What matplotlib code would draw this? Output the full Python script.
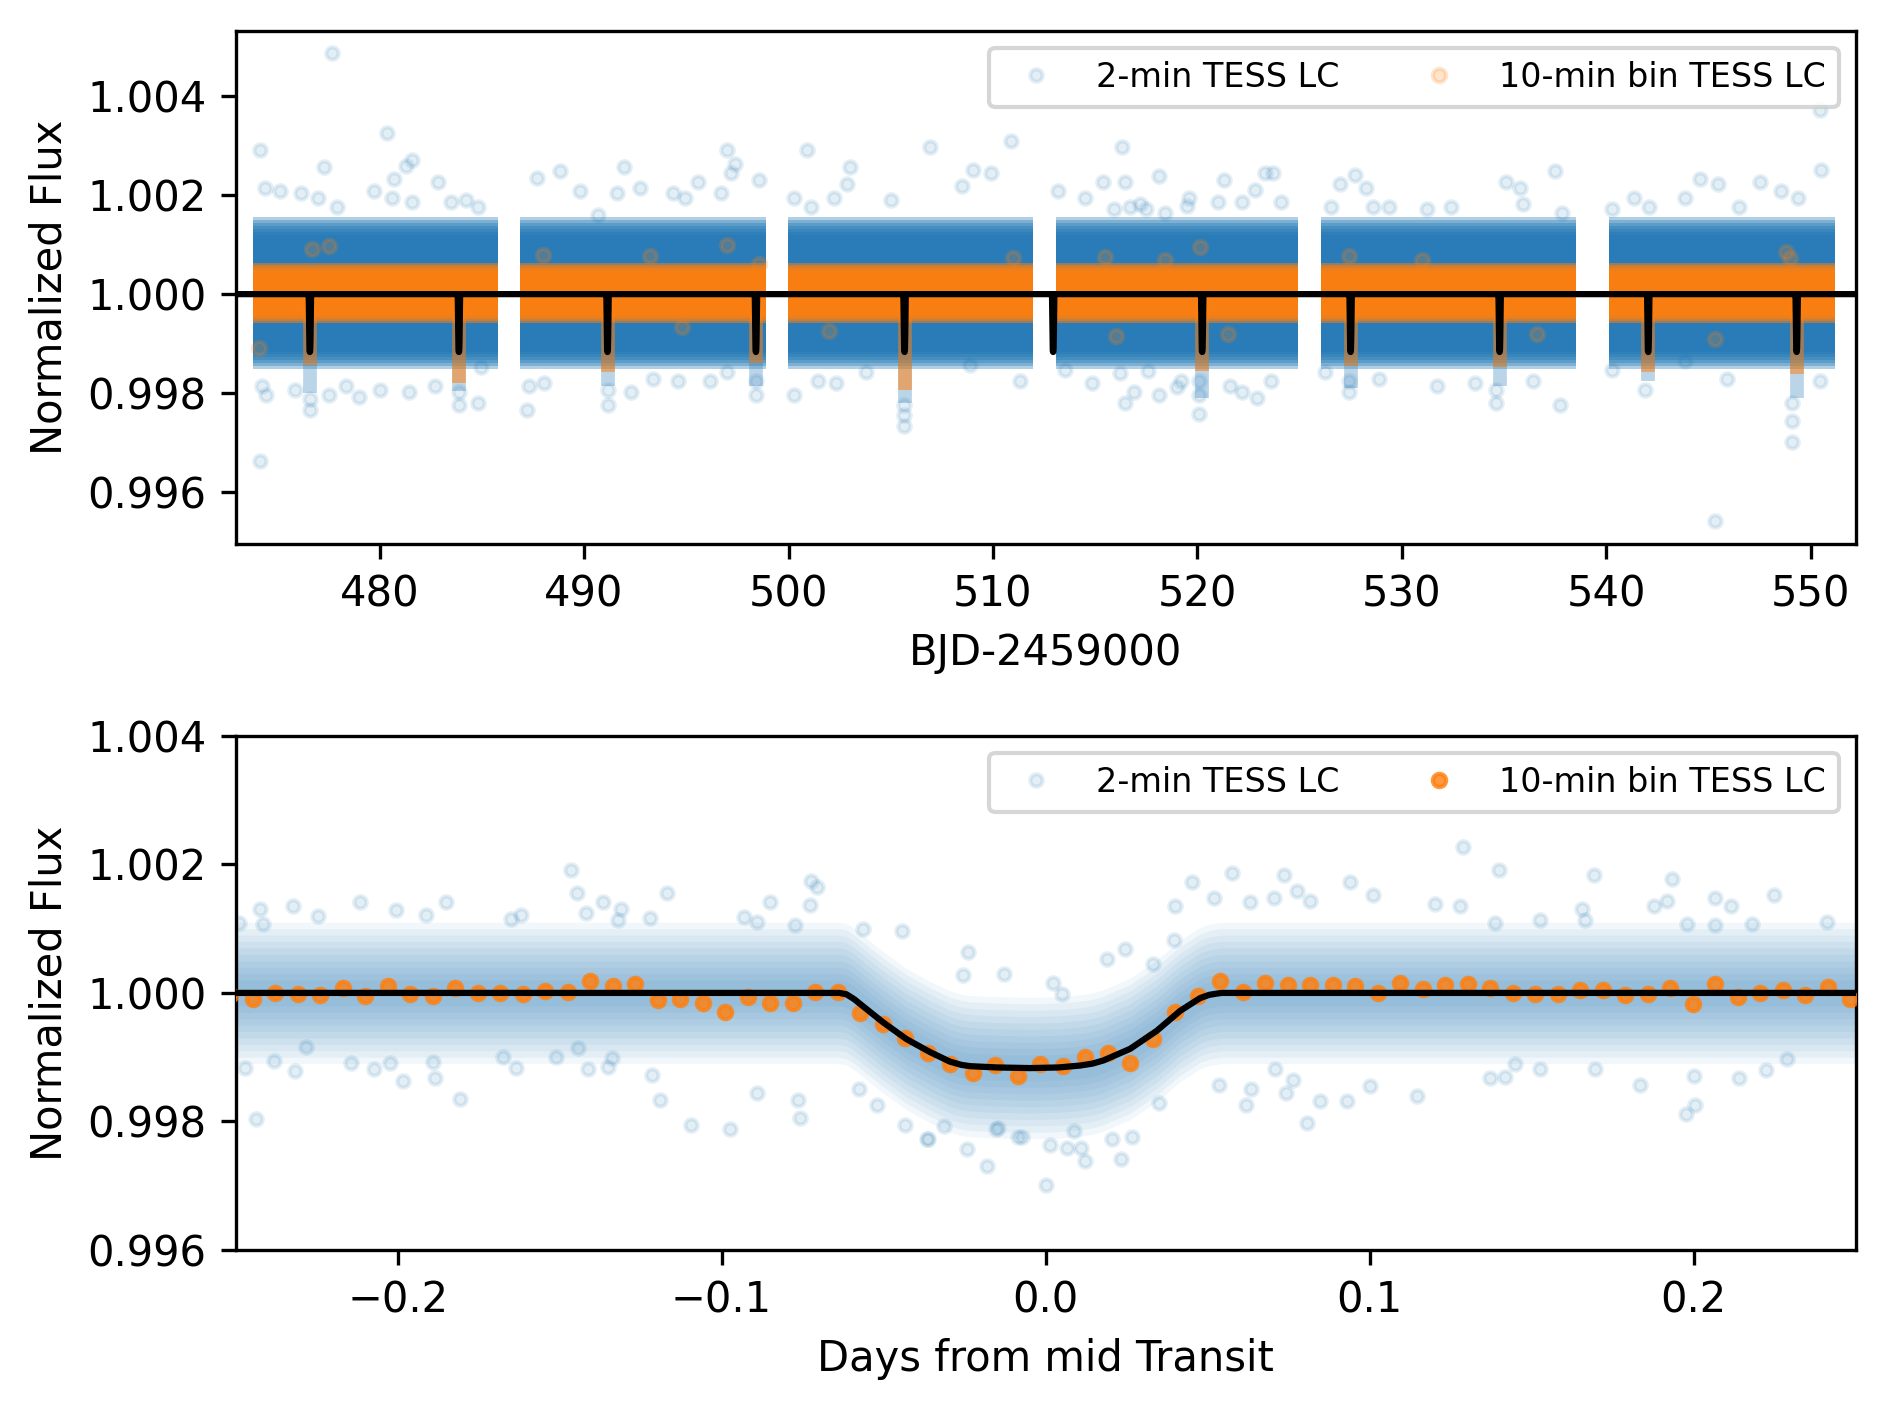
import numpy as np
import matplotlib
matplotlib.use("Agg")
import matplotlib.pyplot as plt

# ------------------------------------------------------------------ data: top panel
seg_start = [473.80, 486.88, 499.96, 513.06, 526.03, 540.14]
seg_end = [485.80, 498.88, 511.97, 524.91, 538.50, 551.17]
band_center = 1.00002
blue_band_halfwidths = [0.00154, 0.00148, 0.00142, 0.00136, 0.00130, 0.00124, 0.00118]
orange_band_halfwidths = [0.00060, 0.00056, 0.00052, 0.00048, 0.00044]

transit_times = [476.59, 483.88, 491.15, 498.41, 505.68, 512.95, 520.24, 527.50, 534.79, 542.06, 549.32]
blue_dip_low = [0.99800, 0.99805, 0.99815, 0.99815, 0.99780, np.nan, 0.99790, 0.99810, 0.99815, 0.99825, 0.99790]
orange_dip_low = [0.99856, 0.99820, 0.99843, 0.99860, 0.99806, np.nan, 0.99845, 0.99855, 0.99852, 0.99843, 0.99838]

top_blue_t = [474.15, 474.15, 477.65, 480.35, 477.3, 481.6, 481.3, 480.7, 482.85, 479.7, 474.4, 475.1, 476.15, 477.0,
              477.9, 480.6, 481.6, 483.5, 484.2, 484.8,
              474.25, 474.45, 475.85, 476.6, 476.6, 477.5, 478.35, 479.0, 480.0, 481.45, 482.7, 483.9, 483.9, 484.8, 484.95,
              487.2, 487.3, 488.05, 487.7, 488.8, 489.8, 490.7, 491.95, 491.6, 492.75, 494.35, 494.95, 495.55, 497.0,
              497.4, 497.2, 498.55, 496.7,
              491.15, 491.15, 492.3, 493.35, 494.6, 496.15, 497.0, 498.4, 498.4,
              500.25, 500.9, 503.0, 502.85, 502.2, 500.25, 501.1, 501.45, 502.3, 503.8, 505.65, 505.65, 505.65, 506.9, 505.0,
              510.9, 509.0, 509.9, 508.5, 511.3, 508.9,
              516.3, 518.1, 515.4, 516.45, 513.2, 514.5, 517.2, 519.6, 521.0, 522.2, 523.3, 523.7, 524.1,
              513.5, 514.85, 516.45, 516.9, 518.1, 519.2, 520.1, 520.1, 520.1, 522.2, 523.6,
              527.7, 527.0, 528.25, 526.55, 528.6, 529.35, 531.25, 532.4, 535.1, 535.8, 535.95, 537.5, 537.85,
              527.4, 527.4, 526.25, 528.9, 531.7, 533.6, 534.6, 534.6, 536.4, 537.75,
              540.3, 541.35, 542.1, 543.85, 544.6, 545.45, 546.5, 547.5, 548.55, 549.4, 550.45, 550.5,
              540.3, 541.9, 543.85, 545.9, 545.3, 549.1, 549.1, 549.1, 550.45,
              515.9, 516.7, 517.5, 518.4, 519.5, 521.3, 522.8, 516.2, 517.6, 519.0, 521.6, 522.9]
top_blue_f = [1.00292, 0.99662, 1.00487, 1.00325, 1.00257, 1.00272, 1.00259, 1.00232, 1.00227, 1.00209, 1.00214, 1.00209,
              1.00205, 1.00195, 1.00177, 1.00195, 1.00186, 1.00186, 1.00191, 1.00177,
              0.99815, 0.99797, 0.99806, 0.99766, 0.99788, 0.99797, 0.99815, 0.99793, 0.99806, 0.99802, 0.99815, 0.99775,
              0.99802, 0.99779, 0.99852,
              0.99766, 0.99815, 0.99820, 1.00234, 1.00248, 1.00209, 1.00159, 1.00257, 1.00205, 1.00214, 1.00205, 1.00195,
              1.00227, 1.00292, 1.00263, 1.00245, 1.00230, 1.00205,
              0.99775, 0.99806, 0.99802, 0.99829, 0.99824, 0.99824, 0.99843, 0.99797, 0.99824,
              0.99797, 1.00292, 1.00257, 1.00223, 1.00195, 1.00195, 1.00177, 0.99824, 0.99820, 0.99843, 0.99734, 0.99755,
              0.99775, 1.00298, 1.00191,
              1.00309, 1.00250, 1.00245, 1.00218, 0.99824, 0.99856,
              1.00297, 1.00239, 1.00227, 1.00227, 1.00209, 1.00195, 1.00182, 1.00195, 1.00186, 1.00186, 1.00245, 1.00245,
              1.00186,
              0.99847, 0.99820, 0.99779, 0.99802, 0.99797, 0.99824, 0.99757, 0.99797, 0.99824, 0.99802, 0.99824,
              1.00241, 1.00223, 1.00214, 1.00177, 1.00177, 1.00177, 1.00173, 1.00177, 1.00227, 1.00214, 1.00182, 1.00248,
              1.00164,
              0.99802, 0.99824, 0.99843, 0.99829, 0.99815, 0.99820, 0.99779, 0.99806, 0.99824, 0.99775,
              1.00173, 1.00195, 1.00177, 1.00195, 1.00232, 1.00223, 1.00177, 1.00227, 1.00209, 1.00195, 1.00372, 1.00250,
              0.99847, 0.99806, 0.99865, 0.99829, 0.99542, 0.99702, 0.99743, 0.99779, 0.99824,
              1.00172, 1.00177, 1.00172, 1.00165, 1.00178, 1.00230, 1.00210, 0.99840, 0.99845, 0.99812, 0.99815, 0.99790]

top_orange_t = [476.7, 477.5, 497.0, 493.2, 494.8, 498.55, 511.0, 520.15, 527.4, 545.3, 549.0, 474.1, 488.0, 502.0,
                515.5, 531.0, 536.6, 548.8, 516.0, 518.4, 521.5]
top_orange_f = [1.00091, 1.00098, 1.00100, 1.00078, 0.99933, 1.00060, 1.00073, 1.00096, 1.00078, 0.99910, 1.00073,
                0.99892, 1.00080, 0.99925, 1.00075, 1.00070, 0.99920, 1.00085, 0.99915, 1.00070, 0.99920]

# ------------------------------------------------------------------ data: bottom panel
bin_phase = [-0.2516, -0.2447, -0.2378, -0.2308, -0.2239, -0.2169, -0.2100, -0.2030, -0.1961, -0.1891, -0.1822,
             -0.1753, -0.1683, -0.1614, -0.1544, -0.1475, -0.1405, -0.1336, -0.1266, -0.1197, -0.1128, -0.1058,
             -0.0989, -0.0919, -0.0850, -0.0780, -0.0711, -0.0642, -0.0572, -0.0503, -0.0433, -0.0364, -0.0294,
             -0.0225, -0.0155, -0.0086, -0.0016, 0.0053, 0.0122, 0.0192, 0.0261, 0.0331, 0.0400, 0.0470, 0.0539,
             0.0608, 0.0678, 0.0747, 0.0817, 0.0886, 0.0956, 0.1025, 0.1095, 0.1164, 0.1233, 0.1303, 0.1372,
             0.1442, 0.1511, 0.1581, 0.1650, 0.1720, 0.1789, 0.1858, 0.1928, 0.1997, 0.2067, 0.2136, 0.2206,
             0.2275, 0.2344, 0.2414, 0.2483]
bin_flux = [0.99997, 0.99991, 1.00000, 0.99999, 0.99996, 1.00007, 0.99995, 1.00010, 0.99999, 0.99995, 1.00008,
            1.00000, 1.00000, 0.99999, 1.00003, 1.00001, 1.00018, 1.00010, 1.00014, 0.99989, 0.99991, 0.99985,
            0.99971, 0.99994, 0.99984, 0.99985, 1.00001, 1.00001, 0.99969, 0.99952, 0.99930, 0.99906, 0.99889,
            0.99876, 0.99888, 0.99871, 0.99890, 0.99886, 0.99900, 0.99907, 0.99891, 0.99928, 0.99970, 0.99995,
            1.00019, 1.00001, 1.00015, 1.00012, 1.00013, 1.00012, 1.00010, 1.00000, 1.00015, 1.00006, 1.00012,
            1.00014, 1.00007, 1.00000, 0.99999, 0.99999, 1.00005, 1.00004, 0.99997, 0.99999, 1.00008, 0.99983,
            1.00014, 0.99994, 1.00000, 1.00005, 0.99997, 1.00009, 0.99991]

model_phase = [-0.26, -0.0637, -0.0615, -0.0590, -0.0563, -0.0501, -0.0429, -0.0357, -0.0295, -0.0260, -0.0233,
               -0.0150, -0.0048, 0.0040, 0.0107, 0.0145, 0.0179, 0.0261, 0.0343, 0.0415, 0.0477, 0.0505, 0.0529,
               0.0544, 0.26]
model_flux = [1.0, 1.0, 0.99998, 0.99990, 0.99979, 0.99954, 0.99928, 0.99908, 0.99893, 0.99888, 0.99886,
              0.99884, 0.99883, 0.99884, 0.99887, 0.99890, 0.99895, 0.99913, 0.99941, 0.99972, 0.99992, 0.99997,
              0.99999, 1.0, 1.0]

cloud_halfwidths = [0.00110, 0.00100, 0.00090, 0.00080, 0.00070, 0.00060, 0.00050, 0.00040, 0.00030, 0.00020]

bot_blue_phase = [-0.1466, -0.1446, -0.1366, -0.2426, -0.2323, -0.2117, -0.2004, -0.1849, -0.1911, -0.2488, -0.2416,
                  -0.2246, -0.1649, -0.1618, -0.1309, -0.1319, -0.1417,
                  -0.2472, -0.2436, -0.2380, -0.2318, -0.2143, -0.2074, -0.1983, -0.1885, -0.1808, -0.1633, -0.1510,
                  -0.1412, -0.1350, -0.1337, -0.2282, -0.2024, -0.1891, -0.1674, -0.1443,
                  -0.1167, -0.0851, -0.0724, -0.0704, -0.0727, -0.1221, -0.0930, -0.0892, -0.0774, -0.0563, -0.0444,
                  -0.0238, -0.0254, -0.0127,
                  -0.1191, -0.1093, -0.0974, -0.0763, -0.0758, -0.0892, -0.1216, -0.0434, -0.0362, -0.0242, -0.0180,
                  -0.0146, -0.0074, 0.0000, -0.0315, -0.0575, -0.0521,
                  0.0122, 0.0232, 0.0067, 0.0109, 0.0015, 0.0205, 0.0267, -0.0084, -0.0365, 0.0617, 0.0535, 0.0633,
                  0.0741, 0.0349, -0.0153, 0.0088,
                  0.0575, 0.0453, 0.0737, 0.0938, 0.1010, 0.0400, 0.0521, 0.0632, 0.0704, 0.0817, 0.0776, 0.1203,
                  0.0246, 0.0189, 0.0022, 0.0050, 0.0331, 0.0395,
                  0.0807, 0.0848, 0.0930, 0.1146, 0.0709, 0.0765, 0.1002,
                  0.1288, 0.1398, 0.1694, 0.1934, 0.2065, 0.2116, 0.1278, 0.1877, 0.1918, 0.1656, 0.1666, 0.1388,
                  0.1525, 0.2065, 0.2181, 0.2413, 0.1980, 0.2247,
                  0.1834, 0.1975, 0.2003, 0.1371, 0.1417, 0.2001, 0.1697, 0.2140, 0.2222, 0.2289, 0.1527, 0.1450]
bot_blue_flux = [1.00192, 1.00155, 1.00142, 1.00130, 1.00135, 1.00142, 1.00129, 1.00142, 1.00121, 1.00109, 1.00107,
                 1.00119, 1.00115, 1.00121, 1.00131, 1.00114, 1.00124,
                 0.99883, 0.99803, 0.99894, 0.99878, 0.99891, 0.99881, 0.99863, 0.99868, 0.99835, 0.99883, 0.99901,
                 0.99882, 0.99885, 0.99899, 0.99916, 0.99891, 0.99892, 0.99901, 0.99914,
                 1.00156, 1.00142, 1.00174, 1.00165, 1.00137, 1.00117, 1.00118, 1.00111, 1.00105, 1.00099, 1.00097,
                 1.00063, 1.00028, 1.00029,
                 0.99833, 0.99794, 0.99788, 0.99833, 0.99805, 0.99845, 0.99873, 0.99794, 0.99772, 0.99757, 0.99730,
                 0.99789, 0.99776, 0.99701, 0.99793, 0.99850, 0.99826,
                 0.99739, 0.99741, 0.99758, 0.99758, 0.99763, 0.99773, 0.99776, 0.99775, 0.99773, 0.99826, 0.99857,
                 0.99850, 0.99845, 0.99829, 0.99788, 0.99785,
                 1.00187, 1.00173, 1.00183, 1.00173, 1.00152, 1.00135, 1.00148, 1.00142, 1.00147, 1.00143, 1.00159,
                 1.00139, 1.00068, 1.00053, 1.00015, 0.99998, 1.00045, 1.00082,
                 0.99798, 0.99832, 0.99832, 0.99840, 0.99882, 0.99865, 0.99855,
                 1.00227, 1.00191, 1.00183, 1.00178, 1.00148, 1.00136, 1.00135, 1.00136, 1.00143, 1.00131, 1.00114,
                 1.00109, 1.00114, 1.00105, 1.00107, 1.00111, 1.00107, 1.00152,
                 0.99857, 0.99812, 0.99826, 0.99867, 0.99869, 0.99871, 0.99881, 0.99868, 0.99880, 0.99897, 0.99882,
                 0.99890]

top_xlim = (472.95, 552.2)
top_ylim = (0.99495, 1.00532)
bot_xlim = (-0.25, 0.25)
bot_ylim = (0.996, 1.004)

# ------------------------------------------------------------------ figure
DPI = 300
fig = plt.figure(figsize=(1886 / DPI, 1406 / DPI), dpi=DPI)
ax1 = fig.add_axes([0.1249, 0.6131, 0.8590, 0.3649])
ax2 = fig.add_axes([0.1249, 0.1110, 0.8590, 0.3656])

C0, C1 = "#1f77b4", "#ff7f0e"
ms_blue, ms_or = 3.0, 3.2
LEG_FS = 8.0

# ---- top panel
for s, e in zip(seg_start, seg_end):
    for w in blue_band_halfwidths:
        ax1.fill_between([s, e], band_center - w, band_center + w, color=C0, alpha=0.35, lw=0, zorder=1)
ax1.vlines([t for t, d in zip(transit_times, blue_dip_low) if np.isfinite(d)],
           [d for d in blue_dip_low if np.isfinite(d)], band_center,
           color=C0, alpha=0.3, lw=3.3, zorder=1.5)
blue_top, = ax1.plot(top_blue_t, top_blue_f, "o", color=C0, alpha=0.12, ms=ms_blue, mew=1,
                     label="2-min TESS LC", zorder=2)
for s, e in zip(seg_start, seg_end):
    for w in orange_band_halfwidths:
        ax1.fill_between([s, e], band_center - w, band_center + w, color=C1, alpha=0.5, lw=0, zorder=3)
ax1.vlines([t for t, d in zip(transit_times, orange_dip_low) if np.isfinite(d)],
           [d for d in orange_dip_low if np.isfinite(d)], band_center,
           color=C1, alpha=0.55, lw=3.3, zorder=3.5)
orange_top, = ax1.plot(top_orange_t, top_orange_f, "o", color=C1, alpha=0.2, ms=ms_or, mew=1,
                       label="10-min bin TESS LC", zorder=3.6)

in_phase = np.array(model_phase[1:-1])
in_flux = np.array(model_flux[1:-1])
top_model_x = np.concatenate([[top_xlim[0] - 1]] + [tc + in_phase for tc in transit_times] + [[top_xlim[1] + 1]])
top_model_y = np.concatenate([[1.0]] + [in_flux for _ in transit_times] + [[1.0]])
ax1.plot(top_model_x, top_model_y, color="black", lw=1.5, zorder=5)

ax1.set_xlim(*top_xlim)
ax1.set_ylim(*top_ylim)
ax1.set_xlabel("BJD-2459000")
ax1.set_ylabel("Normalized Flux")
ax1.ticklabel_format(axis="y", useOffset=False)
ax1.legend(handles=[blue_top, orange_top], loc="upper right", ncol=2, fontsize=LEG_FS)

# ---- bottom panel
mp = np.array(model_phase)
mf = np.array(model_flux)
for w in cloud_halfwidths:
    ax2.fill_between(mp, mf - w, mf + w, color=C0, alpha=0.06, lw=0, zorder=1)
blue_bot, = ax2.plot(bot_blue_phase, bot_blue_flux, "o", color=C0, alpha=0.12, ms=ms_blue, mew=1,
                     label="2-min TESS LC", zorder=2)
orange_bot, = ax2.plot(bin_phase, bin_flux, "o", color=C1, alpha=0.8, ms=ms_or, mew=1,
                       label="10-min bin TESS LC", zorder=3)
ax2.plot(mp, mf, color="black", lw=1.5, zorder=5, solid_joinstyle="round")

ax2.set_xlim(*bot_xlim)
ax2.set_ylim(*bot_ylim)
ax2.set_yticks([0.996, 0.998, 1.000, 1.002, 1.004])
ax2.ticklabel_format(axis="y", useOffset=False)
ax2.set_xlabel("Days from mid Transit")
ax2.set_ylabel("Normalized Flux")
ax2.legend(handles=[blue_bot, orange_bot], loc="upper right", ncol=2, fontsize=LEG_FS)

fig.savefig("out.png", dpi=DPI)
